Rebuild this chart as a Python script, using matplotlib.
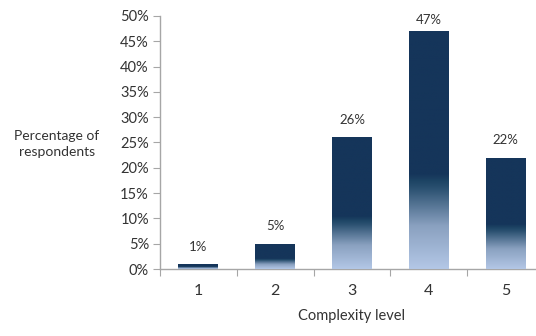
import matplotlib
matplotlib.use('Agg')
import matplotlib.pyplot as plt
import numpy as np
from matplotlib.colors import LinearSegmentedColormap
from matplotlib.ticker import FixedLocator

levels = ['1', '2', '3', '4', '5']
share = [1, 5, 26, 47, 22]          # percent of respondents
yticks = list(range(0, 55, 5))

plt.rcParams['font.family'] = ['Lato', 'DejaVu Sans']
text_col = '#333333'
axis_col = '#a6a6a6'
navy = '#15355a'

# light blue at the base of each bar, fading into navy about a third of the way up
grad = LinearSegmentedColormap.from_list(
    'bar_fade', [(0.0, '#b3c7e6'), (0.18, '#8aa1c0'), (0.34, '#2a5070'),
                 (0.37, '#1d4464'), (0.40, navy), (1.0, navy)])

fig = plt.figure(figsize=(5.36, 3.36), dpi=100)
ax = fig.add_axes([0.2985, 0.1994, 0.7164, 0.7530])

x = np.arange(1, len(levels) + 1)
bars = ax.bar(x, share, width=0.52, color=navy, zorder=2)

ramp = np.linspace(0, 1, 256).reshape(-1, 1)
for b, v in zip(bars, share):
    x0 = b.get_x()
    im = ax.imshow(ramp, cmap=grad, origin='lower', aspect='auto',
                   extent=(x0, x0 + b.get_width(), 0, v), zorder=3)
    im.set_clip_path(b)

for xi, v in zip(x, share):
    ax.text(xi, min(v + 3.4, 49.2), f'{v}%', ha='center', va='center',
            fontsize=9.5, color=text_col)

ax.set_xlim(0.5, 5.5)
ax.set_ylim(0, 50)

ax.set_yticks(yticks)
ax.set_yticklabels([f'{t}%' for t in yticks], fontsize=10.5, color=text_col)
ax.xaxis.set_major_locator(FixedLocator(np.arange(0.5, 6.0, 1.0)))
ax.set_xticklabels([])
ax.xaxis.set_minor_locator(FixedLocator(x))
ax.set_xticklabels(levels, minor=True, fontsize=11.5, color=text_col)
ax.tick_params(axis='x', which='minor', length=0, pad=11)
ax.tick_params(axis='x', which='major', length=5, color=axis_col, direction='out')
ax.tick_params(axis='y', length=5, color=axis_col, direction='out', pad=3)

for s in ['top', 'right']:
    ax.spines[s].set_visible(False)
for s in ['left', 'bottom']:
    ax.spines[s].set_color(axis_col)
    ax.spines[s].set_linewidth(1.0)

ax.set_xlabel('Complexity level', fontsize=10.5, color=text_col, labelpad=8)
fig.text(57 / 536, 1 - 144 / 336, 'Percentage of\nrespondents', ha='center',
         va='center', fontsize=10, color=text_col, linespacing=1.3)

fig.savefig('out.png', dpi=100)
